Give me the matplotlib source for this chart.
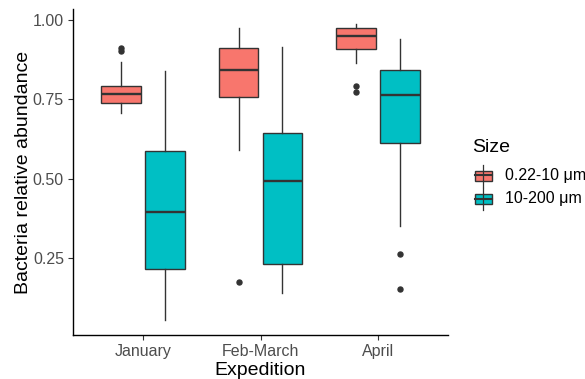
import matplotlib
matplotlib.use("Agg")
import matplotlib.pyplot as plt
from matplotlib.patches import Rectangle
from matplotlib.lines import Line2D

plt.rcParams["font.family"] = ["Liberation Sans", "DejaVu Sans"]

# Boxplot summaries per expedition and size fraction
expeditions = ["January", "Feb-March", "April"]
sizes = ["0.22-10 \u03bcm", "10-200 \u03bcm"]
colors = ["#F8766D", "#00BFC4"]

# [whisker low, Q1, median, Q3, whisker high]
small_stats = [
    [0.706, 0.737, 0.766, 0.792, 0.867],
    [0.590, 0.758, 0.841, 0.910, 0.976],
    [0.864, 0.908, 0.950, 0.975, 0.987],
]
large_stats = [
    [0.054, 0.214, 0.395, 0.588, 0.839],
    [0.139, 0.232, 0.494, 0.644, 0.914],
    [0.352, 0.612, 0.764, 0.841, 0.939],
]
small_outliers = [[0.903, 0.912], [0.173], [0.793, 0.774]]
large_outliers = [[], [], [0.263, 0.152]]

W, H = 585, 379
fig = plt.figure(figsize=(W / 100, H / 100), dpi=100)
ax = fig.add_axes([73 / W, 1 - 335 / H, (448 - 73) / W, (335 - 9.2) / H])

edge = "#333333"


def to_dicts(stats, outliers):
    out = []
    for s, o in zip(stats, outliers):
        out.append(dict(whislo=s[0], q1=s[1], med=s[2], q3=s[3], whishi=s[4], fliers=o))
    return out


groups = [to_dicts(small_stats, small_outliers), to_dicts(large_stats, large_outliers)]
offsets = [-0.1875, 0.1875]
for g, (data, col, off) in enumerate(zip(groups, colors, offsets)):
    pos = [i + 1 + off for i in range(len(expeditions))]
    ax.bxp(data, positions=pos, widths=0.34, patch_artist=True, showcaps=False,
           boxprops=dict(facecolor=col, edgecolor=edge, linewidth=1.0),
           medianprops=dict(color=edge, linewidth=1.7),
           whiskerprops=dict(color=edge, linewidth=1.0),
           flierprops=dict(marker="o", markerfacecolor=edge, markeredgecolor=edge,
                           markersize=3.6, linestyle="none"))

# y range with 5% expansion around all values
vals = [v for s in small_stats + large_stats for v in s]
vals += [v for o in small_outliers + large_outliers for v in o]
lo, hi = min(vals), max(vals)
pad = 0.05 * (hi - lo)
ax.set_ylim(lo - pad, hi + pad)
ax.set_xlim(0.4, 3.6)

ax.set_xticks([1, 2, 3])
ax.set_xticklabels(expeditions)
ax.set_yticks([0.25, 0.5, 0.75, 1.0])
ax.set_yticklabels(["0.25", "0.50", "0.75", "1.00"])
ax.tick_params(colors=edge, labelcolor="#4D4D4D", labelsize=11.5, length=3.5, width=0.8, pad=3)
for side in ["top", "right"]:
    ax.spines[side].set_visible(False)
for side in ["left", "bottom"]:
    ax.spines[side].set_color("black")
    ax.spines[side].set_linewidth(1.0)

ax.set_xlabel("Expedition", fontsize=14, labelpad=2)
ax.set_ylabel("Bacteria relative abundance", fontsize=14, labelpad=0.5)

# legend drawn in pixel coordinates of the figure
def fx(x):
    return x / W


def fy(y):
    return 1 - y / H


fig.text(fx(472.5), fy(147), "Size", fontsize=14, va="center", ha="left")
for k, (lab, col) in enumerate(zip(sizes, colors)):
    yc = 175.5 + 23.5 * k
    x0, x1 = 475, 491.5
    xm = (x0 + x1) / 2
    fig.add_artist(Line2D([fx(xm), fx(xm)], [fy(yc - 11), fy(yc + 11)],
                          color=edge, linewidth=0.9))
    fig.add_artist(Rectangle((fx(x0), fy(yc + 5)), fx(x1) - fx(x0), fy(yc - 5) - fy(yc + 5),
                             facecolor=col, edgecolor=edge, linewidth=1.0,
                             transform=fig.transFigure))
    fig.add_artist(Line2D([fx(x0), fx(x1)], [fy(yc), fy(yc)], color=edge, linewidth=1.5))
    fig.text(fx(505), fy(yc), lab, fontsize=11.5, va="center", ha="left")

fig.savefig("out.png", dpi=100)
